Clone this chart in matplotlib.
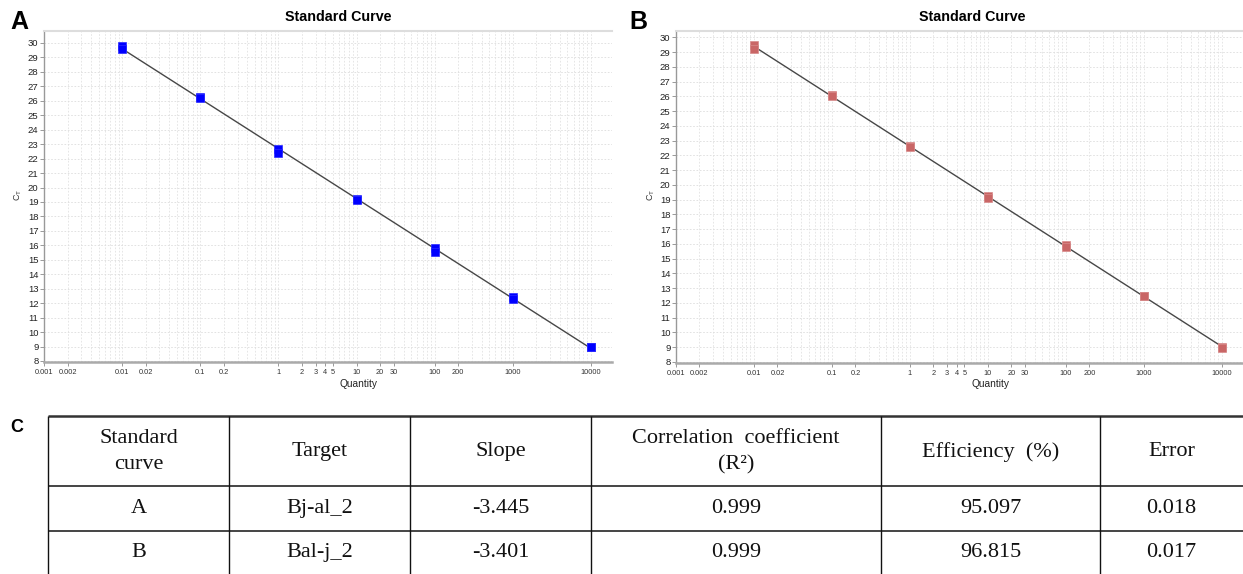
import numpy as np
import matplotlib.pyplot as plt
from matplotlib.ticker import FixedLocator, LogLocator, NullFormatter

plt.rcParams['font.family'] = ['Liberation Sans', 'DejaVu Sans']

# 표준곡선 데이터 (반복 측정값)
qty = [0.01, 0.01, 0.1, 0.1, 1, 1, 10, 10, 100, 100, 1000, 1000, 10000, 10000]
ct_a = [29.8, 29.6, 26.25, 26.2, 22.65, 22.4, 19.2, 19.15, 15.8, 15.55, 12.45, 12.3, 9.0, 8.95]
ct_b = [29.45, 29.2, 26.1, 26.0, 22.65, 22.6, 19.25, 19.1, 15.9, 15.8, 12.5, 12.45, 9.0, 8.98]

xtick_vals = [0.001, 0.002, 0.01, 0.02, 0.1, 0.2, 1, 2, 3, 4, 5, 10, 20, 30, 100, 200, 1000, 10000]
xtick_labels = ['0.001', '0.002', '0.01', '0.02', '0.1', '0.2', '1', '2', '3', '4', '5',
                '10', '20', '30', '100', '200', '1000', '10000']
ytick_vals = list(range(8, 31))

# 표 (C)
table_header = ['Standard\ncurve', 'Target', 'Slope', 'Correlation  coefficient\n(R²)',
                'Efficiency  (%)', 'Error']
table_rows = [['A', 'Bj-al_2', '-3.445', '0.999', '95.097', '0.018'],
              ['B', 'Bal-j_2', '-3.401', '0.999', '96.815', '0.017']]

W, H = 1243, 574
fig = plt.figure(figsize=(W / 100, H / 100), dpi=100)


def px_box(left, top, right, bottom):
    return [left / W, 1 - bottom / H, (right - left) / W, (bottom - top) / H]


def draw_panel(ax, ct, color, edge, ylim):
    ax.set_xscale('log')
    ax.set_xlim(0.001, 10 ** 4.27)
    ax.set_ylim(*ylim)

    # 회귀선
    lq = np.log10(qty)
    m, b = np.polyfit(lq, ct, 1)
    xs = np.array([min(qty), max(qty)])
    ax.plot(xs, m * np.log10(xs) + b, color='#474747', lw=1.0, zorder=2)
    ax.plot(qty, ct, 's', color=color, ms=6.3, mec=edge, mew=0.5, zorder=3)

    ax.xaxis.set_major_locator(FixedLocator(xtick_vals))
    ax.set_xticklabels(xtick_labels)
    ax.xaxis.set_minor_locator(LogLocator(base=10, subs=np.arange(2, 10), numticks=20))
    ax.xaxis.set_minor_formatter(NullFormatter())
    ax.yaxis.set_major_locator(FixedLocator(ytick_vals))

    ax.grid(True, which='both', axis='x', ls=(0, (2, 2)), color='#E2E2E2', lw=0.6)
    ax.grid(True, which='major', axis='y', ls=(0, (2, 2)), color='#DDDDDD', lw=0.6)
    ax.set_axisbelow(True)

    ax.tick_params(axis='x', which='major', length=3, width=0.7, color='#999999',
                   labelsize=5.3, labelcolor='#333333', pad=2)
    ax.tick_params(axis='x', which='minor', length=0)
    ax.tick_params(axis='y', length=3, width=0.7, color='#999999',
                   labelsize=6.8, labelcolor='#222222', pad=1)

    ax.spines['right'].set_visible(False)
    ax.spines['top'].set_color('#DDDDDD')
    ax.spines['top'].set_linewidth(1.5)
    ax.spines['left'].set_color('#999999')
    ax.spines['left'].set_linewidth(1.0)
    ax.spines['bottom'].set_color('#AAAAAA')
    ax.spines['bottom'].set_linewidth(1.8)

    ax.set_ylabel('C$_\\mathregular{T}$', fontsize=6.5, color='#333333')
    ax.set_xlabel('Quantity', fontsize=7.3, color='#222222')


ax_a = fig.add_axes(px_box(44, 31, 612, 362))
draw_panel(ax_a, ct_a, '#0000FF', '#2A2AFF', (7.93, 30.83))
ax_a.yaxis.set_label_coords(-(44 - 18) / 568, (362 - 195) / 331)
ax_a.xaxis.set_label_coords((358 - 44) / 568, -(384 - 362) / 331)

ax_b = fig.add_axes(px_box(676, 31, 1243, 363))
draw_panel(ax_b, ct_b, '#C96666', '#D88A8A', (7.93, 30.43))
ax_b.yaxis.set_label_coords(-(676 - 651) / 567, (363 - 195) / 332)
ax_b.xaxis.set_label_coords((990 - 676) / 567, -(384 - 363) / 332)

for ax in (ax_a, ax_b):
    ax.xaxis.label.set_va('center')
    ax.yaxis.label.set_va('center')

fig.text(338 / W, 1 - 17 / H, 'Standard Curve', fontsize=10.3, fontweight='bold',
         ha='center', va='center')
fig.text(972 / W, 1 - 17 / H, 'Standard Curve', fontsize=10.3, fontweight='bold',
         ha='center', va='center')
fig.text(19 / W, 1 - 22 / H, 'A', fontsize=18, fontweight='bold', ha='center', va='center')
fig.text(638 / W, 1 - 22 / H, 'B', fontsize=18, fontweight='bold', ha='center', va='center')
fig.text(17 / W, 1 - 428 / H, 'C', fontsize=13, fontweight='bold', ha='center', va='center')

# 표 그리기 (픽셀 좌표)
tab = fig.add_axes([0, 0, 1, 1], zorder=-1)
tab.set_xlim(0, W)
tab.set_ylim(H, 0)
tab.axis('off')

col_edges = [48, 229, 410, 591, 881, 1100, 1243]
row_edges = [415.5, 486, 530.5, 575]

tab.hlines(row_edges[0], col_edges[0], W, color='#333333', lw=1.8)
tab.hlines(row_edges[1:3], col_edges[0], W, color='#444444', lw=1.4)
tab.vlines(col_edges[:-1], row_edges[0], row_edges[-1], color='#111111', lw=1.0)

serif = ['Liberation Serif', 'DejaVu Serif']
for r, cells in enumerate([table_header] + table_rows):
    yc = (row_edges[r] + row_edges[r + 1]) / 2
    if r == 0:
        yc += 1
    for c, txt in enumerate(cells):
        xc = (col_edges[c] + col_edges[c + 1]) / 2
        tab.text(xc, yc, txt, family=serif, fontsize=16, ha='center', va='center',
                 linespacing=1.5, color='#111111')

fig.savefig('out.png', dpi=100)
